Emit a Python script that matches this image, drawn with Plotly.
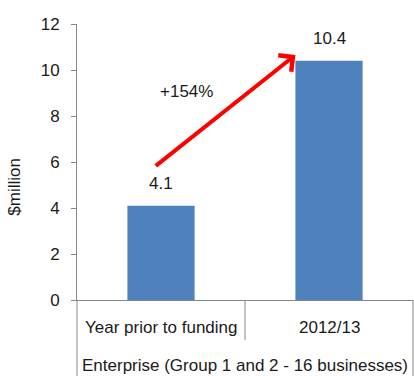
import plotly.graph_objects as go

# Funding comparison data
categories = ["Year prior to funding", "2012/13"]
values = [4.1, 10.4]
group_label = "Enterprise (Group 1 and 2 - 16 businesses)"
y_title = "$million"
y_ticks = [0, 2, 4, 6, 8, 10, 12]
change_label = "+154%"

# Arrow endpoints (category index, $million)
arrow_start = (-0.04, 5.78)
arrow_end = (0.80, 10.65)
change_pos = (0.15, 9.05)

FONT = "Liberation Sans, Arial, sans-serif"
FS = 17
TEXT = "#1a1a1a"
GRID = "#868686"
BAR = "#4F81BD"

x_idx = list(range(len(categories)))

fig = go.Figure()
fig.add_trace(go.Bar(
    x=x_idx, y=values, width=0.4,
    marker=dict(color=BAR, line=dict(width=0)),
    hoverinfo="skip",
))

annotations = []
# value labels above each bar
for i, v in zip(x_idx, values):
    annotations.append(dict(
        x=i, y=v, xref="x", yref="y", text=f"{v:.1f}", showarrow=False,
        yanchor="bottom", yshift=11, font=dict(size=FS, color=TEXT, family=FONT),
    ))
# growth arrow
annotations.append(dict(
    x=arrow_end[0], y=arrow_end[1], ax=arrow_start[0], ay=arrow_start[1],
    xref="x", yref="y", axref="x", ayref="y", text="", showarrow=True,
    arrowhead=4, arrowsize=1.0, arrowwidth=4, arrowcolor="#FF0000",
))
annotations.append(dict(
    x=change_pos[0], y=change_pos[1], xref="x", yref="y", text=change_label,
    showarrow=False, font=dict(size=FS, color=TEXT, family=FONT),
))
# category labels in the table row
for i, c in zip(x_idx, categories):
    annotations.append(dict(
        x=i, y=-0.101, xref="x", yref="paper", text=c, showarrow=False,
        yanchor="middle", font=dict(size=FS, color=TEXT, family=FONT),
    ))
annotations.append(dict(
    x=0.5, y=-0.237, xref="paper", yref="paper", text=group_label, showarrow=False,
    yanchor="middle", font=dict(size=FS, color=TEXT, family=FONT),
))
# y-axis title
annotations.append(dict(
    x=-0.185, y=0.41, xref="paper", yref="paper", text=y_title, showarrow=False,
    xanchor="center", yanchor="middle",
    textangle=-90, font=dict(size=FS, color=TEXT, family=FONT),
))

# table grid lines below the axis
line = dict(color=GRID, width=1)
shapes = [
    dict(type="line", xref="paper", yref="paper", x0=0, x1=0, y0=0, y1=-0.3, line=line),
    dict(type="line", xref="paper", yref="paper", x0=0.5, x1=0.5, y0=0, y1=-0.145, line=line),
    dict(type="line", xref="paper", yref="paper", x0=1, x1=1, y0=0, y1=-0.3, line=line),
]

fig.update_layout(
    width=414, height=376,
    margin=dict(l=77, r=1, t=24, b=76),
    paper_bgcolor="white", plot_bgcolor="white",
    showlegend=False, bargap=0.6,
    annotations=annotations, shapes=shapes,
    font=dict(family=FONT, size=FS, color=TEXT),
    xaxis=dict(
        range=[-0.5, 1.5], showticklabels=False, ticks="",
        showgrid=False, zeroline=False, showline=True, linecolor=GRID, linewidth=1,
        fixedrange=True,
    ),
    yaxis=dict(
        range=[0, 12], tickvals=y_ticks, ticks="outside", ticklen=5, tickcolor=GRID,
        ticklabelstandoff=8,
        showgrid=False, zeroline=False, showline=True, linecolor=GRID, linewidth=1,
        tickfont=dict(size=FS, color=TEXT, family=FONT), fixedrange=True,
    ),
)

fig.write_html("out.html", config={"displayModeBar": False})
